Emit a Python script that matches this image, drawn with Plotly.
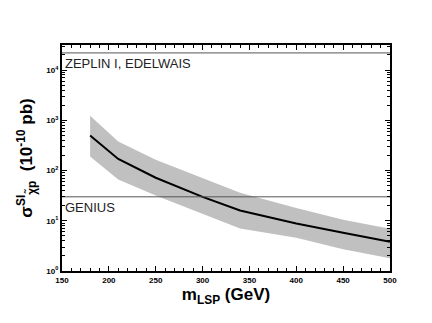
import math
import plotly.graph_objects as go

# LSP mass (GeV) and spin-independent cross section (1e-10 pb)
m_lsp = [180, 210, 250, 300, 340, 400, 450, 500]
sigma_central = [500, 170, 72, 30, 16, 8.8, 5.8, 3.8]
sigma_upper = [1230, 380, 165, 72, 36, 18, 10.5, 6.9]
sigma_lower = [190, 66, 32, 14, 7, 4.6, 2.7, 1.8]

zeplin_limit = 2.2e4
genius_limit = 30

x_ticks = [150, 200, 250, 300, 350, 400, 450, 500]
y_ticks = [1, 10, 100, 1000, 10000]
y_labels = ["10<sup>0</sup>", "10<sup>1</sup>", "10<sup>2</sup>", "10<sup>3</sup>", "10<sup>4</sup>"]
y_minor = [d * k for d in y_ticks for k in range(2, 10)]

FONT = "Arial, Liberation Sans, sans-serif"

fig = go.Figure()

# uncertainty band
fig.add_trace(go.Scatter(x=m_lsp, y=sigma_upper, mode="lines",
                         line=dict(width=0, color="#c0c0c0"), showlegend=False))
fig.add_trace(go.Scatter(x=m_lsp, y=sigma_lower, mode="lines",
                         line=dict(width=0, color="#c0c0c0"),
                         fill="tonexty", fillcolor="#c0c0c0", showlegend=False))
# central curve
fig.add_trace(go.Scatter(x=m_lsp, y=sigma_central, mode="lines",
                         line=dict(color="black", width=2), showlegend=False))

# experimental sensitivities
for lim, label in [(zeplin_limit, "ZEPLIN I, EDELWAIS"), (genius_limit, "GENIUS")]:
    fig.add_trace(go.Scatter(x=[150, 500], y=[lim, lim], mode="lines",
                             line=dict(color="#555555", width=1), showlegend=False))
    # annotations on a log axis take log10 positions
    fig.add_annotation(x=150, y=math.log10(lim), text=label, showarrow=False,
                       xanchor="left", yanchor="top", xshift=1, yshift=-1,
                       font=dict(family=FONT, size=13, color="#222222"))

axis_common = dict(showline=True, linecolor="black", linewidth=2, mirror="ticks",
                   ticks="inside", ticklen=5, tickwidth=1, tickcolor="black",
                   showgrid=False, zeroline=False, automargin=False,
                   tickfont=dict(family=FONT, size=8, color="black", weight="bold"))

fig.update_xaxes(range=[150, 500], tickvals=x_ticks,
                 minor=dict(ticks="inside", ticklen=3, dtick=10, tickcolor="black"),
                 title=dict(text="m<sub>LSP</sub> (GeV)", standoff=5,
                            font=dict(family=FONT, size=17, color="black", weight="bold")),
                 **axis_common)
fig.update_yaxes(type="log", range=[0, 4.5], tickvals=y_ticks, ticktext=y_labels,
                 minor=dict(ticks="inside", ticklen=3, tickcolor="black", tickvals=y_minor),
                 title=dict(text="σ<sup>SI</sup><sub>χ̃p</sub>  (10<sup>-10</sup> pb)", standoff=9,
                            font=dict(family=FONT, size=17, color="black", weight="bold")),
                 **axis_common)

# page body has an 8px margin, so the figure is sized to fit inside the window
fig.update_layout(width=424, height=315,
                  margin=dict(l=54, r=42, t=37, b=52),
                  paper_bgcolor="white", plot_bgcolor="white")

fig.write_html("out.html")
